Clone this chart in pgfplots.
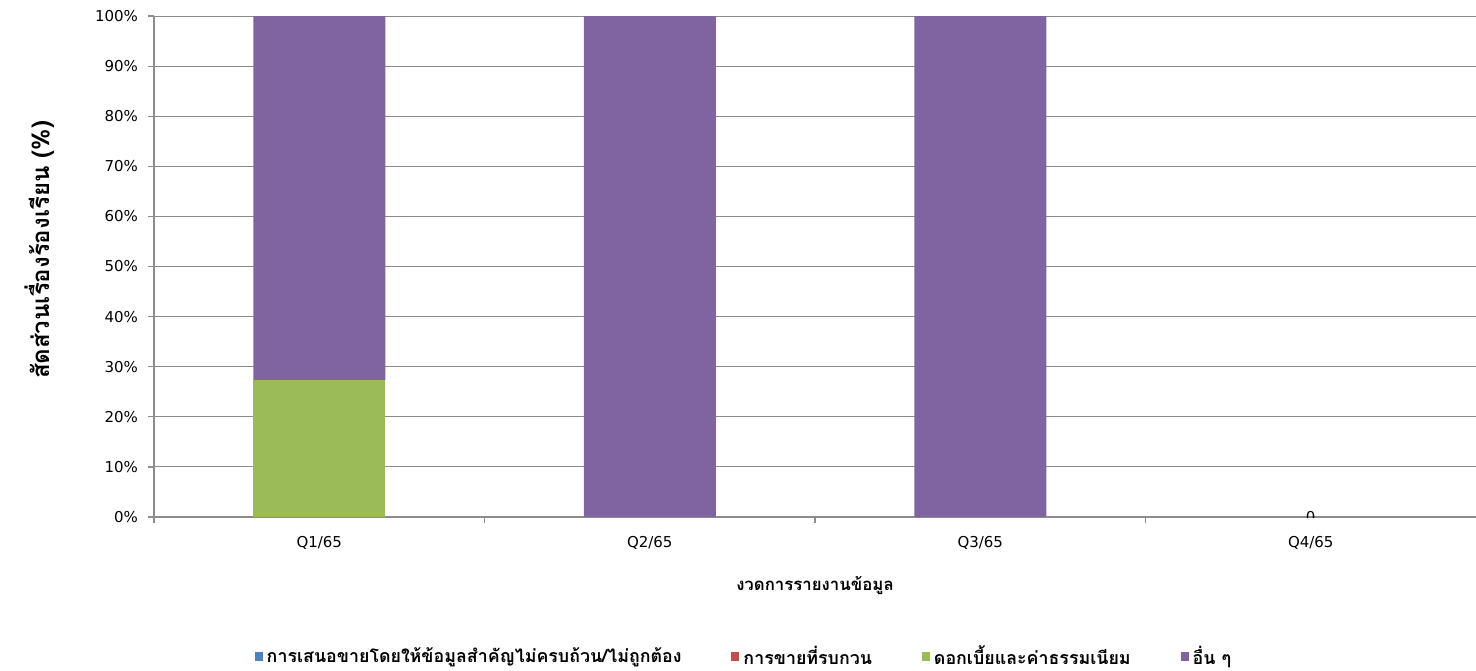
\documentclass[border=0pt]{standalone}
\usepackage{fontspec}
\setmainfont[Script=Thai]{Loma}
\newfontfamily\latinfont{DejaVu Sans}
\usepackage{pgfplots}
\pgfplotsset{compat=1.18}

\definecolor{sblue}{HTML}{4F81BD}
\definecolor{sred}{HTML}{C0504D}
\definecolor{sgreen}{HTML}{9BBB59}
\definecolor{spurple}{HTML}{8064A2}
\definecolor{gridgray}{HTML}{8C8C8C}

\begin{document}
\begin{tikzpicture}
\begin{axis}[
    name=ax,
    scale only axis,
    width=661pt, height=250.5pt,
    ybar stacked,
    bar width=66pt,
    xmin=-0.5, xmax=3.5,
    ymin=0, ymax=100,
    xtick={0,1,2,3},
    xticklabels={Q1/65,Q2/65,Q3/65,Q4/65},
    minor xtick={-0.5,0.5,1.5,2.5},
    ytick={0,10,...,100},
    yticklabel={\pgfmathprintnumber{\tick}\%},
    /pgf/number format/assume math mode=true,
    ymajorgrids,
    major grid style={gridgray, line width=0.5pt},
    axis x line*=bottom,
    axis y line*=left,
    axis line style={gridgray, line width=0.9pt, -},
    tick style={gridgray, line width=0.6pt},
    major x tick style={draw=none},
    tick align=outside,
    major tick length=3pt,
    minor tick length=3pt,
    ticklabel style={font=\latinfont\fontsize{7.5}{9}\selectfont, text=black},
    xticklabel style={yshift=-3pt},
    yticklabel style={xshift=-1.5pt},
    ylabel={สัดส่วนเรื่องร้องเรียน (\%)},
    ylabel style={at={(rel axis cs:-0.0862,0.533)}, anchor=center, font=\bfseries\fontsize{12}{14}\selectfont},
    xlabel={งวดการรายงานข้อมูล},
    xlabel style={at={(rel axis cs:0.5,0)}, yshift=-34.5pt, anchor=center, font=\bfseries\fontsize{8.4}{10}\selectfont},
    legend columns=4,
    legend style={at={(rel axis cs:0.447,0)}, yshift=-70pt, anchor=center, draw=none,
        font=\bfseries\fontsize{8.9}{10}\selectfont,
        /tikz/every even column/.append style={column sep=23pt}},
    legend image code/.code={\fill[#1] (0pt,-2pt) rectangle (4pt,2.4pt);},
    legend cell align=left,
]
\addplot[fill=sblue, draw=none] coordinates {(0,0) (1,0) (2,0) (3,0)};
\addlegendentry{การเสนอขายโดยให้ข้อมูลสำคัญไม่ครบถ้วน/ไม่ถูกต้อง}
\addplot[fill=sred, draw=none] coordinates {(0,0) (1,0) (2,0) (3,0)};
\addlegendentry{การขายที่รบกวน}
\addplot[fill=sgreen, draw=none] coordinates {(0,27.27) (1,0) (2,0) (3,0)};
\addlegendentry{ดอกเบี้ยและค่าธรรมเนียม}
\addplot[fill=spurple, draw=none] coordinates {(0,72.73) (1,100) (2,100) (3,0)};
\addlegendentry{อื่น ๆ}
\node[font=\latinfont\fontsize{7.5}{9}\selectfont, inner sep=0pt] at (axis cs:3,0) {0};
\end{axis}
\pgfresetboundingbox
\path ([xshift=-77pt,yshift=-76.5pt]ax.south west) rectangle ([yshift=8pt]ax.north east);
\end{tikzpicture}
\end{document}
